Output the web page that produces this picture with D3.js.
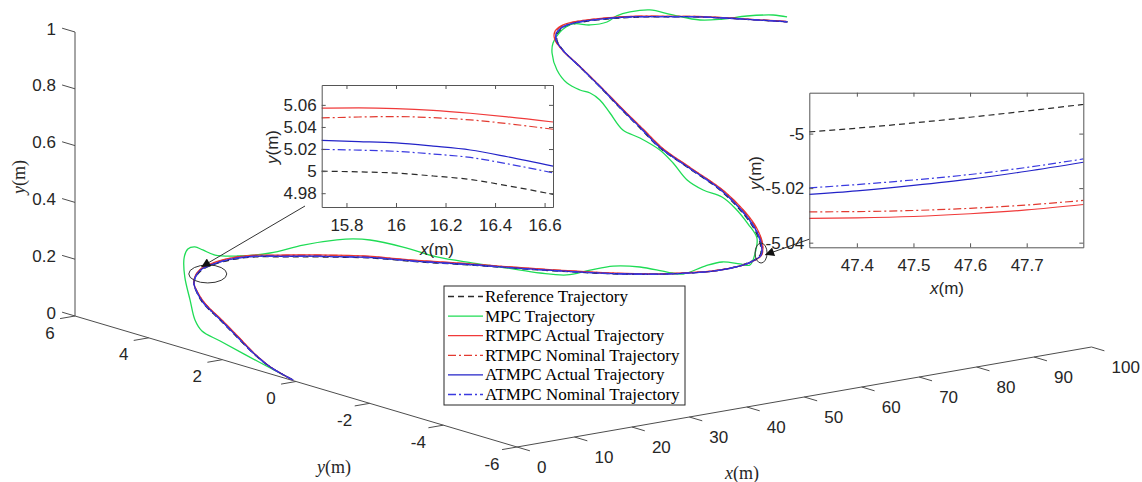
<!DOCTYPE html>
<html lang="en">
<head>
<meta charset="UTF-8">
<title>Trajectory tracking comparison</title>
<script src="https://d3js.org/d3.v7.min.js"></script>
<style>
  body { margin: 0; background: #fff; }
  svg { display: block; }
  .tick-label { font-family: "Liberation Sans", Arial, sans-serif; font-size: 17px; fill: #262626; }
  .axis-title { font-family: "Liberation Serif", "Times New Roman", serif; font-size: 18px; fill: #262626; }
  .inset text { font-family: "Liberation Sans", Arial, sans-serif; font-size: 17px; fill: #262626; }
  .inset .domain, .inset .tick line { stroke: #555; }
  .legend text { font-family: "Liberation Serif", "Times New Roman", serif; font-size: 17px; fill: #000; }
</style>
</head>
<body>
<svg width="1142" height="482"></svg>
<script>
// ---- main view: path points x(m), y(m) ----
const refX = [0, 1.19, 2.87, 4.98, 7.21, 9.45, 10.98, 12.66, 14.29, 15.71, 16.97, 18.78, 20.54, 22.32, 24.05,
  26.49, 28.38, 30.45, 33.20, 36.66, 39.29, 42.65, 45.50, 47.56, 49.71, 52.29, 54.74, 57.37, 59.87, 61.95,
  64.58, 67.21, 70.04, 72.67, 74.90, 76.43, 77.77, 79.24, 80.61, 82.91, 85.01, 86.74, 88.16, 89.89, 91.86];
const refY = [0, 0.82, 1.56, 2.34, 3.16, 3.99, 4.40, 4.76, 4.94, 5.00, 4.95, 4.77, 4.43, 3.80, 3.18,
  2.21, 1.16, 0.13, -1.33, -2.95, -3.88, -4.70, -5.01, -4.995, -4.64, -4.03, -3.28, -2.30, -1.00, 0.08,
  1.05, 2.02, 3.03, 4.00, 4.83, 5.24, 5.43, 5.48, 5.37, 4.93, 4.37, 3.76, 3.25, 2.44, 1.46];
const rtmpcY = [0, 0.80, 1.52, 2.28, 3.09, 3.93, 4.37, 4.76, 4.97, 5.057, 5.02, 4.87, 4.57, 3.98, 3.38,
  2.41, 1.34, 0.28, -1.21, -2.87, -3.84, -4.70, -5.035, -5.030, -4.71, -4.13, -3.40, -2.42, -1.11, -0.02,
  0.97, 1.96, 2.99, 3.98, 4.85, 5.30, 5.52, 5.58, 5.47, 5.02, 4.45, 3.82, 3.30, 2.48, 1.50];
const rtmpcNomY = [0, 0.80, 1.53, 2.29, 3.10, 3.94, 4.37, 4.76, 4.97, 5.048, 5.01, 4.855, 4.55, 3.95, 3.35,
  2.38, 1.31, 0.26, -1.23, -2.88, -3.85, -4.70, -5.03, -5.028, -4.70, -4.115, -3.38, -2.40, -1.09, -0.005,
  0.98, 1.97, 3.00, 3.985, 4.85, 5.29, 5.505, 5.565, 5.455, 5.005, 4.44, 3.81, 3.29, 2.475, 1.495];
const atmpcY = [0, 0.81, 1.545, 2.32, 3.135, 3.97, 4.39, 4.76, 4.955, 5.028, 4.977, 4.81, 4.48, 3.86, 3.25,
  2.28, 1.22, 0.18, -1.29, -2.92, -3.87, -4.705, -5.03, -5.018, -4.67, -4.07, -3.325, -2.345, -1.04, 0.045,
  1.02, 2.00, 3.015, 3.995, 4.84, 5.265, 5.465, 5.52, 5.41, 4.965, 4.40, 3.785, 3.27, 2.455, 1.475];
const atmpcNomY = [0, 0.815, 1.55, 2.325, 3.14, 3.975, 4.39, 4.76, 4.95, 5.020, 4.97, 4.80, 4.47, 3.845, 3.23,
  2.26, 1.205, 0.17, -1.30, -2.93, -3.87, -4.705, -5.028, -5.016, -4.665, -4.06, -3.315, -2.335, -1.03, 0.055,
  1.03, 2.005, 3.02, 3.995, 4.835, 5.26, 5.455, 5.51, 5.40, 4.955, 4.39, 3.78, 3.265, 2.45, 1.47];
const mpcX = [0, 1.61, 3.35, 4.24, 5.90, 9.32, 13.29, 16.74, 18.60, 19.34, 19.20, 18.91, 19.88, 22.17, 25.37,
  28.08, 29.10, 29.81, 30.25, 30.19, 30.98, 31.84, 32.65, 33.70, 35.83, 37.77, 39.00, 39.50, 39.97, 42.59,
  44.23, 44.80, 45.14, 47.61, 50.48, 52.58, 54.85, 56.19, 56.48, 57.48, 59.87, 61.58, 62.74, 63.32, 65.77,
  67.64, 68.40, 68.43, 69.03, 70.91, 73.77, 75.66, 78.06, 80.21, 80.92, 82.36, 83.99, 85.41, 86.83, 87.11,
  87.61, 89.00, 90.81, 92.36, 92.73];
const mpcY = [0, 1.24, 2.53, 3.17, 3.63, 4.32, 5.11, 5.69, 5.89, 5.82, 5.58, 5.20, 4.76, 4.23, 3.85,
  3.37, 3.10, 2.75, 1.92, 0.99, 0.13, -0.65, -1.42, -1.98, -2.27, -2.58, -3.11, -3.77, -4.13, -4.30,
  -4.50, -4.89, -5.11, -4.85, -4.43, -3.85, -3.12, -2.55, -1.99, -1.39, -0.62, 0.02, 0.75, 1.31, 2.06,
  2.64, 3.03, 3.31, 3.76, 4.34, 4.94, 5.22, 5.42, 5.42, 5.07, 4.84, 4.84, 4.71, 4.40, 3.82,
  3.16, 2.76, 2.40, 1.94, 1.62];

// ---- inset A (around x = 16 m) ----
const zoomAX = [15.70, 15.85, 16.00, 16.15, 16.30, 16.45, 16.634];
const zoomARef = [5.0000, 4.9993, 4.9982, 4.9956, 4.9924, 4.9868, 4.9790];
const zoomARtmpc = [5.0570, 5.0572, 5.0566, 5.0550, 5.0524, 5.0492, 5.0445];
const zoomARtmpcNom = [5.0482, 5.0490, 5.0494, 5.0484, 5.0464, 5.0430, 5.0379];
const zoomAAtmpc = [5.0279, 5.0268, 5.0255, 5.0226, 5.0191, 5.0130, 5.0045];
const zoomAAtmpcNom = [5.0197, 5.0190, 5.0179, 5.0155, 5.0124, 5.0066, 4.9985];
const zoomAXTicks = [15.8, 16, 16.2, 16.4, 16.6];
const zoomAYTicks = [4.98, 5, 5.02, 5.04, 5.06];

// ---- inset B (around x = 47.5 m) ----
const zoomBX = [47.316, 47.40, 47.50, 47.60, 47.70, 47.80];
const zoomBRef = [-4.9994, -4.9980, -4.9961, -4.9940, -4.9917, -4.9893];
const zoomBRtmpc = [-5.0311, -5.0309, -5.0304, -5.0294, -5.0280, -5.0260];
const zoomBRtmpcNom = [-5.0287, -5.0286, -5.0282, -5.0274, -5.0262, -5.0245];
const zoomBAtmpc = [-5.0223, -5.0210, -5.0190, -5.0167, -5.0138, -5.0105];
const zoomBAtmpcNom = [-5.0199, -5.0187, -5.0170, -5.0150, -5.0124, -5.0093];
const zoomBXTicks = [47.4, 47.5, 47.6, 47.7];
const zoomBYTicks = [-5.04, -5.02, -5];

// ---- 3D box ticks ----
const xTicks = [0, 10, 20, 30, 40, 50, 60, 70, 80, 90, 100];
const yTicks = [6, 4, 2, 0, -2, -4, -6];
const zTicks = [0, 0.2, 0.4, 0.6, 0.8, 1];

const names = ["Reference Trajectory", "MPC Trajectory", "RTMPC Actual Trajectory",
  "RTMPC Nominal Trajectory", "ATMPC Actual Trajectory", "ATMPC Nominal Trajectory"];

const styles = [
  { color: "#2b2b2b", dash: "6,4" },
  { color: "#1fdc55", dash: null },
  { color: "#f03a3a", dash: null },
  { color: "#e23a30", dash: "8,3,2,3" },
  { color: "#2323c8", dash: null },
  { color: "#3a3ae0", dash: "8,3,2,3" }
];

const svg = d3.select("svg");
const axisColor = "#4d4d4d";

// 3D axes projection (corner x=0, y=-6, z=0)
const x3h = d3.scaleLinear().domain([0, 100]).range([517, 1091.5]);
const x3v = d3.scaleLinear().domain([0, 100]).range([447, 347]);
const y3h = d3.scaleLinear().domain([-6, 6]).range([0, -442]);
const y3v = d3.scaleLinear().domain([-6, 6]).range([0, -131]);
const z3v = d3.scaleLinear().domain([0, 1]).range([0, -284]);
const p3 = (x, y, z) => [x3h(x) + y3h(y), x3v(x) + y3v(y) + z3v(z)];

const axes = svg.append("g").attr("stroke", axisColor).attr("stroke-width", 1).attr("fill", "none");
const seg = (a, b) => axes.append("line").attr("x1", a[0]).attr("y1", a[1]).attr("x2", b[0]).attr("y2", b[1]);

seg(p3(0, 6, 0), p3(0, 6, 1));
seg(p3(0, 6, 0), p3(0, -6, 0));
seg(p3(0, -6, 0), p3(100, -6, 0));

// z ticks
zTicks.forEach(z => {
  seg(p3(0, 6, z), p3(0, 6.35, z));
  const p = p3(0, 6, z);
  svg.append("text").attr("class", "tick-label").attr("x", p[0] - 19).attr("y", p[1] - 3)
    .attr("text-anchor", "end").attr("dominant-baseline", "central").text(z);
});
// y ticks
yTicks.forEach(y => {
  seg(p3(0, y, 0), p3(-2.6, y, 0));
  const p = p3(0, y, 0);
  svg.append("text").attr("class", "tick-label").attr("x", p[0] - 25).attr("y", p[1] + 17)
    .attr("text-anchor", "middle").attr("dominant-baseline", "central").text(y);
});
// x ticks
xTicks.forEach(x => {
  seg(p3(x, -6, 0), p3(x, -6.35, 0));
  const p = p3(x, -6, 0);
  svg.append("text").attr("class", "tick-label").attr("x", p[0] + 20).attr("y", p[1] + 20)
    .attr("text-anchor", "start").attr("dominant-baseline", "central").text(x);
});

function axisTitle(g, letter, x, y, rotate) {
  const t = g.append("text").attr("class", "axis-title")
    .attr("text-anchor", "middle").attr("dominant-baseline", "central")
    .attr("transform", `translate(${x},${y})` + (rotate ? " rotate(-90)" : ""));
  t.append("tspan").attr("font-style", "italic").text(letter);
  t.append("tspan").text("(m)");
}
axisTitle(svg, "y", 19, 177, true);
axisTitle(svg, "y", 334, 467, false);
axisTitle(svg, "x", 742, 473, false);

// path frame for the trajectories
const txh = d3.scaleLinear().domain([0, 100]).range([0, 596.9]);
const txv = d3.scaleLinear().domain([0, 100]).range([0, -373.2]);
const tyh = d3.scaleLinear().domain([0, 10]).range([0, -367]);
const tyv = d3.scaleLinear().domain([0, 10]).range([0, -104.6]);
const pt = (x, y) => [293 + txh(x) + tyh(y), 380 + txv(x) + tyv(y)];

const mainLine = d3.line()
  .x(d => pt(d[0], d[1])[0])
  .y(d => pt(d[0], d[1])[1])
  .curve(d3.curveCatmullRom.alpha(0.5));

const mainSeries = [
  d3.zip(refX, refY),
  d3.zip(mpcX, mpcY),
  d3.zip(refX, rtmpcY),
  d3.zip(refX, rtmpcNomY),
  d3.zip(refX, atmpcY),
  d3.zip(refX, atmpcNomY)
];

svg.append("g").selectAll("path").data(mainSeries).join("path")
  .attr("d", mainLine)
  .attr("fill", "none")
  .attr("stroke", (d, i) => styles[i].color)
  .attr("stroke-width", 1.3)
  .attr("stroke-dasharray", (d, i) => styles[i].dash);

// annotations: ellipses and arrows
svg.append("defs").append("marker")
  .attr("id", "head").attr("viewBox", "0 0 10 10").attr("refX", 10).attr("refY", 5)
  .attr("markerWidth", 12).attr("markerHeight", 9).attr("markerUnits", "userSpaceOnUse")
  .attr("orient", "auto")
  .append("path").attr("d", "M0,0 L10,5 L0,10 Z").attr("fill", "#111");

const ann = svg.append("g").attr("fill", "none").attr("stroke", "#333").attr("stroke-width", 1);
const e1 = pt(15.05, 4.77), e2 = pt(47.92, -4.96);
ann.append("ellipse").attr("cx", e1[0]).attr("cy", e1[1]).attr("rx", 19).attr("ry", 9);
ann.append("ellipse").attr("cx", e2[0]).attr("cy", e2[1]).attr("rx", 6).attr("ry", 10);
const a1 = pt(16, 5.1), a2 = pt(47.8, -5.09);
ann.append("line").attr("x1", 305).attr("y1", 206).attr("x2", a1[0]).attr("y2", a1[1]).attr("marker-end", "url(#head)");
ann.append("line").attr("x1", 838).attr("y1", 229).attr("x2", a2[0]).attr("y2", a2[1]).attr("marker-end", "url(#head)");

// insets
function inset(opt) {
  const g = svg.append("g").attr("class", "inset");
  const xs = d3.scaleLinear().domain(opt.xDomain).range([opt.left, opt.right]);
  const ys = d3.scaleLinear().domain(opt.yDomain).range([opt.bottom, opt.top]);
  g.append("rect").attr("x", opt.left).attr("y", opt.top)
    .attr("width", opt.right - opt.left).attr("height", opt.bottom - opt.top).attr("fill", "#fff");
  const fmt = d => String(+d.toFixed(3));
  const line = d3.line().x(d => xs(d[0])).y(d => ys(d[1])).curve(d3.curveMonotoneX);
  g.append("g").selectAll("path").data(opt.series).join("path")
    .attr("d", d => line(d3.zip(opt.x, d.y)))
    .attr("fill", "none")
    .attr("stroke", d => styles[d.s].color)
    .attr("stroke-width", 1.2)
    .attr("stroke-dasharray", d => styles[d.s].dash);
  g.append("g").attr("transform", `translate(0,${opt.bottom})`)
    .call(d3.axisBottom(xs).tickValues(opt.xTicks).tickFormat(fmt).tickSizeInner(-4).tickSizeOuter(0).tickPadding(12));
  g.append("g").attr("transform", `translate(0,${opt.top})`)
    .call(d3.axisTop(xs).tickValues(opt.xTicks).tickFormat("").tickSizeInner(-4).tickSizeOuter(0));
  g.append("g").attr("transform", `translate(${opt.left},0)`)
    .call(d3.axisLeft(ys).tickValues(opt.yTicks).tickFormat(fmt).tickSizeInner(-4).tickSizeOuter(0).tickPadding(5));
  g.append("g").attr("transform", `translate(${opt.right},0)`)
    .call(d3.axisRight(ys).tickValues(opt.yTicks).tickFormat("").tickSizeInner(-4).tickSizeOuter(0));
  g.selectAll("text").attr("font-size", 17).attr("font-family", "Liberation Sans, Arial, sans-serif").attr("fill", "#262626");
  axisTitle(g, "x", opt.xTitle[0], opt.xTitle[1], false);
  axisTitle(g, "y", opt.yTitle[0], opt.yTitle[1], true);
}

inset({
  left: 321.7, right: 553, top: 85, bottom: 207,
  xDomain: [15.7, 16.634], yDomain: [4.9675, 5.078],
  xTicks: zoomAXTicks, yTicks: zoomAYTicks, x: zoomAX,
  series: [{ s: 0, y: zoomARef }, { s: 2, y: zoomARtmpc }, { s: 3, y: zoomARtmpcNom },
           { s: 4, y: zoomAAtmpc }, { s: 5, y: zoomAAtmpcNom }],
  xTitle: [437, 249], yTitle: [272, 147]
});
inset({
  left: 809.3, right: 1083.3, top: 92.7, bottom: 247.3,
  xDomain: [47.316, 47.80], yDomain: [-5.0417, -4.985],
  xTicks: zoomBXTicks, yTicks: zoomBYTicks, x: zoomBX,
  series: [{ s: 0, y: zoomBRef }, { s: 2, y: zoomBRtmpc }, { s: 3, y: zoomBRtmpcNom },
           { s: 4, y: zoomBAtmpc }, { s: 5, y: zoomBAtmpcNom }],
  xTitle: [947, 288], yTitle: [755, 173]
});

// legend
const legend = svg.append("g").attr("class", "legend");
legend.append("rect").attr("x", 444).attr("y", 286).attr("width", 241).attr("height", 119)
  .attr("fill", "#fff").attr("stroke", "#262626").attr("stroke-width", 1);
const rows = legend.selectAll("g.row").data(names).join("g").attr("class", "row")
  .attr("transform", (d, i) => `translate(448,${296.5 + i * 19.6})`);
rows.append("line").attr("x1", 0).attr("x2", 35).attr("y1", 0).attr("y2", 0)
  .attr("stroke", (d, i) => styles[i].color).attr("stroke-width", 1.3)
  .attr("stroke-dasharray", (d, i) => styles[i].dash);
rows.append("text").attr("x", 37).attr("y", 0).attr("dominant-baseline", "central").text(d => d);
</script>
</body>
</html>
